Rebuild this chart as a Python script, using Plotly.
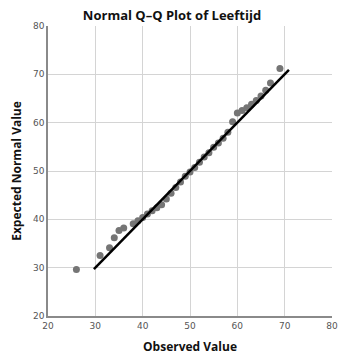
import plotly.graph_objects as go

observed = [26, 31, 33, 34, 35, 36, 38, 39, 40, 41, 42, 43, 44, 45, 46, 47, 48, 49, 50,
            51, 52, 53, 54, 55, 56, 57, 58, 59, 60, 61, 62, 63, 64, 65, 66, 67, 69]
expected = [29.6, 32.5, 34.1, 36.2, 37.7, 38.2, 39.1, 39.7, 40.4, 41.1, 41.8, 42.4, 43.0,
            44.2, 45.4, 46.6, 47.7, 48.9, 49.8, 50.7, 51.8, 52.9, 53.8, 54.9, 55.8, 56.8,
            58.0, 60.2, 62.0, 62.5, 63.1, 63.8, 64.6, 65.5, 66.7, 68.2, 71.2]
line_x = [29.7, 70.9]
line_y = [29.7, 70.9]
tick_vals = [20, 30, 40, 50, 60, 70, 80]

fig = go.Figure()
fig.add_trace(go.Scatter(x=observed, y=expected, mode="markers",
                         marker=dict(color="#757575", size=7), showlegend=False))
fig.add_trace(go.Scatter(x=line_x, y=line_y, mode="lines",
                         line=dict(color="black", width=2.5), showlegend=False))

axis_common = dict(range=[20, 80], tickvals=tick_vals, showgrid=True, gridcolor="#d4d4d4",
                   gridwidth=1, zeroline=False, showline=True, linecolor="#8a8a8a",
                   linewidth=1.5, ticks="", tickfont=dict(size=9, color="#555555",
                   family="DejaVu Sans"))

fig.update_layout(
    width=344, height=358,
    margin=dict(l=48, r=6, t=26, b=41),
    plot_bgcolor="white", paper_bgcolor="white",
    font=dict(family="Open Sans, DejaVu Sans, sans-serif", color="#111111"),
    title=dict(text="<b>Normal Q–Q Plot of Leeftijd</b>", x=0.5, xanchor="center",
               y=1 - 15 / 358, yanchor="middle", font=dict(size=13)),
    xaxis=dict(**axis_common,
               title=dict(text="<b>Observed Value</b>", font=dict(size=12), standoff=13)),
    yaxis=dict(**axis_common,
               title=dict(text="<b>Expected Normal Value</b>", font=dict(size=12), standoff=9)),
)

fig.write_html("out.html")
